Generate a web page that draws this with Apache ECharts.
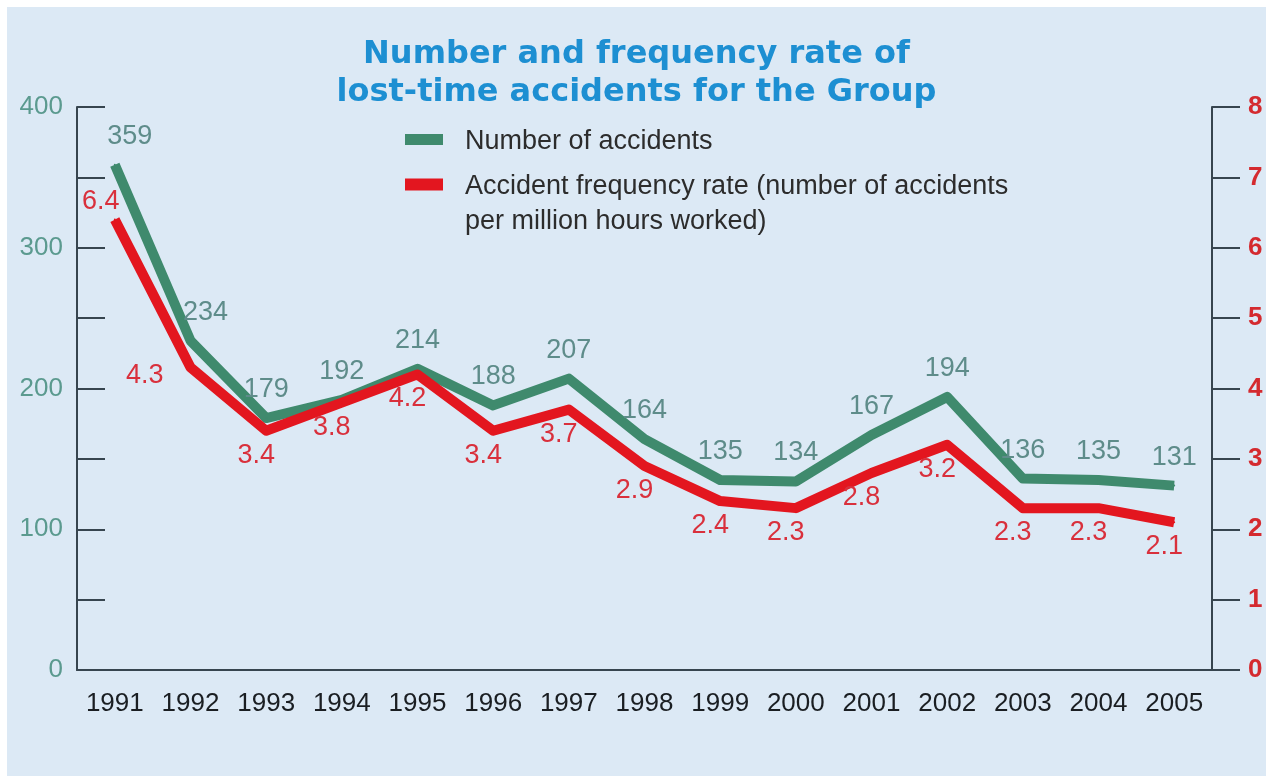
<!DOCTYPE html>
<html>
<head>
<meta charset="utf-8">
<script src="https://cdn.jsdelivr.net/npm/echarts@6/dist/echarts.min.js"></script>
<style>
    html, body { margin: 0; padding: 0; background: #ffffff; }
    .chart__wrapper {
        position: absolute;
        left: 7px;
        top: 7px;
        width: 1259px;
        height: 769px;
    }
</style>
</head>
<body>
<div class="chart__wrapper" id="chart"></div>
<script>
    // values
    let years = ['1991', '1992', '1993', '1994', '1995', '1996', '1997', '1998',
                 '1999', '2000', '2001', '2002', '2003', '2004', '2005'];
    let accidents = [359, 234, 179, 192, 214, 188, 207, 164, 135, 134, 167, 194, 136, 135, 131];
    let frequencyRate = [6.4, 4.3, 3.4, 3.8, 4.2, 3.4, 3.7, 2.9, 2.4, 2.3, 2.8, 3.2, 2.3, 2.3, 2.1];
    let leftTicks = [0, 100, 200, 300, 400];
    let rightTicks = [0, 1, 2, 3, 4, 5, 6, 7, 8];

    let nameAccidents = 'Number of accidents';
    let nameRate = 'Accident frequency rate (number of accidents per million hours worked)';

    const GREEN = '#3f8a6d';
    const RED = '#e3161f';
    const AXIS = '#37454f';
    const FONT = '"Liberation Sans", Arial, sans-serif';

    let myChart = echarts.init(document.getElementById('chart'));

    // a few labels sit beside the line instead of above / below it
    let greenData = accidents.map((v, i) => {
        if (i < 2) return { value: v, label: { offset: [15, 0] } };
        return v;
    });
    let redData = frequencyRate.map((v, i) => {
        if (i === 0) return { value: v, label: { position: 'top', distance: 4, offset: [-14, 0] } };
        if (i === 1) return { value: v, label: { position: 'left', distance: 6, offset: [-20, 8] } };
        return v;
    });

    let legendRich = {
        t: { color: '#2c2c2c', fontFamily: FONT, fontSize: 27, lineHeight: 35, padding: [4, 0, 0, 17] }
    };

    let option = {
        backgroundColor: '#dce9f5',
        animation: false,
        title: {
            text: 'Number and frequency rate of\nlost-time accidents for the Group',
            left: 'center',
            top: 24,
            padding: [5, 0, 5, 28],
            textStyle: {
                color: '#1d8fd2',
                fontFamily: '"DejaVu Sans", sans-serif',
                fontWeight: 'bold',
                fontSize: 32,
                lineHeight: 38
            }
        },
        legend: [{
            data: [nameAccidents],
            left: 393,
            top: 112,
            itemWidth: 38,
            itemHeight: 11,
            icon: 'rect',
            formatter: function(n) {
                return '{t|' + n + '}';
            },
            textStyle: { rich: legendRich }
        }, {
            data: [nameRate],
            left: 393,
            top: 122,
            itemWidth: 38,
            itemHeight: 12,
            icon: 'rect',
            formatter: function(n) {
                let parts = n.split('accidents ');
                // empty first line keeps the icon level with the first line of text
                return '{t| }\n{t|' + parts[0] + 'accidents}\n{t|' + parts[1] + '}';
            },
            textStyle: { rich: legendRich }
        }],
        grid: {
            left: 70,
            right: 54,
            top: 100,
            bottom: 106,
            containLabel: false
        },
        xAxis: {
            type: 'category',
            data: years,
            boundaryGap: true,
            axisLine: { lineStyle: { color: AXIS, width: 2 } },
            axisTick: { inside: true, length: 15, lineStyle: { color: AXIS, width: 2 } },
            axisLabel: {
                interval: 0,
                color: '#1a1e22', fontFamily: FONT, fontSize: 26, margin: 21
            }
        },
        yAxis: [{
            type: 'value',
            min: 0,
            max: 400,
            interval: 50,
            position: 'left',
            splitLine: { show: false },
            axisLine: { show: true, lineStyle: { color: AXIS, width: 2 } },
            axisTick: { show: true, inside: true, length: 28, lineStyle: { color: AXIS, width: 2 } },
            axisLabel: {
                color: '#5b9a8f', fontFamily: FONT, fontSize: 26, margin: 14,
                formatter: function(v) {
                    return leftTicks.indexOf(v) >= 0 ? String(v) : '';
                }
            }
        }, {
            type: 'value',
            min: 0,
            max: 8,
            interval: 1,
            position: 'right',
            splitLine: { show: false },
            axisLine: { show: true, lineStyle: { color: AXIS, width: 2 } },
            axisTick: { show: true, inside: false, length: 28, lineStyle: { color: AXIS, width: 2 } },
            axisLabel: {
                color: '#d42a2f', fontFamily: FONT, fontWeight: 'bold', fontSize: 26, margin: 36,
                formatter: function(v) {
                    return rightTicks.indexOf(v) >= 0 ? String(v) : '';
                }
            }
        }],
        series: [{
            name: nameAccidents,
            type: 'line',
            yAxisIndex: 0,
            data: greenData,
            symbol: 'circle',
            symbolSize: 2,
            color: GREEN,
            lineStyle: { color: GREEN, width: 10, join: 'round' },
            label: {
                show: true,
                position: 'top',
                distance: 14,
                color: '#5e8c8a',
                fontFamily: FONT,
                fontSize: 27
            },
            z: 2
        }, {
            name: nameRate,
            type: 'line',
            yAxisIndex: 1,
            data: redData,
            symbol: 'circle',
            symbolSize: 2,
            color: RED,
            lineStyle: { color: RED, width: 10, join: 'round' },
            label: {
                show: true,
                position: 'bottom',
                distance: 10,
                offset: [-10, 0],
                color: '#d9303c',
                fontFamily: FONT,
                fontSize: 27
            },
            z: 3
        }]
    };

    myChart.setOption(option);
</script>
</body>
</html>
